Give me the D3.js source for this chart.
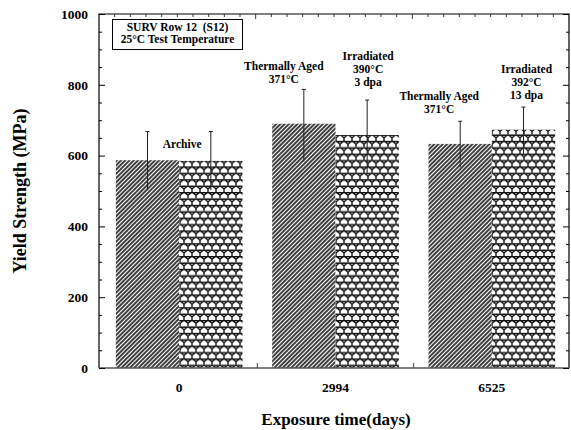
<!DOCTYPE html>
<html>
<head>
<meta charset="utf-8">
<script src="https://cdn.jsdelivr.net/npm/d3@7"></script>
<style>
  body { margin: 0; background: #fff; }
  text { font-family: "Liberation Serif", "Times New Roman", serif; font-weight: bold; white-space: pre; }
</style>
</head>
<body>
<script>
"use strict";

// Width and height
let w = 571;
let h = 430;

// exposure time groups (days)
let groups = ["0", "2994", "6525"];
let series = ["aged", "irradiated"];

// yield strength, MPa
let agedValues = [587, 690, 633];
let agedErrLow = [503, 583, 567];
let agedErrHigh = [668, 787, 697];
let irrValues = [585, 658, 673];
let irrErrLow = [503, 550, 605];
let irrErrHigh = [668, 757, 737];

let yTicks = [0, 200, 400, 600, 800, 1000];

let boxLines = ["SURV Row 12  (S12)", "25\u00b0C Test Temperature"];

// annotation text, by group and series
let notes = [
    {group: "0", series: null, lines: ["Archive"]},
    {group: "2994", series: "aged", lines: ["Thermally Aged", "371\u00b0C"]},
    {group: "2994", series: "irradiated", lines: ["Irradiated", "390\u00b0C", "3 dpa"]},
    {group: "6525", series: "aged", lines: ["Thermally Aged", "371\u00b0C"]},
    {group: "6525", series: "irradiated", lines: ["Irradiated", "392\u00b0C", "13 dpa"]}
];
// where each note sits: horizontal shift and top line baseline (px)
let noteLayout = [
    {dx: 3, top: 148},
    {dx: -20, top: 70},
    {dx: 1, top: 60},
    {dx: -21, top: 100},
    {dx: 3, top: 73}
];
let lineGap = 12.8;

let margin = {top: 14, right: 2, bottom: 62, left: 99};

let svg = d3.select("body")
    .append("svg")
    .attr("width", w)
    .attr("height", h);

let defs = svg.append("defs");

// diagonal hatch
let hatch = defs.append("pattern")
    .attr("id", "hatch")
    .attr("patternUnits", "userSpaceOnUse")
    .attr("width", 3)
    .attr("height", 3)
    .attr("patternTransform", "rotate(45)");
hatch.append("rect").attr("width", 3).attr("height", 3).attr("fill", "#fff");
hatch.append("line")
    .attr("x1", 1).attr("y1", 0).attr("x2", 1).attr("y2", 3)
    .attr("stroke", "#000").attr("stroke-width", 1.5);

// Y-shaped tile pattern
let tw = 8, th = 6.4;
let tile = defs.append("pattern")
    .attr("id", "tiles")
    .attr("patternUnits", "userSpaceOnUse")
    .attr("width", tw)
    .attr("height", th * 2);
tile.append("rect").attr("width", tw).attr("height", th * 2).attr("fill", "#fff");
[0, 1].forEach(r => {
    let off = r ? tw / 2 : 0;
    let y0 = r * th;
    [off - tw, off, off + tw].forEach(xt => {
        tile.append("path")
            .attr("d", `M${xt},${y0 + 0.8}H${xt + tw}` +
                `M${xt + 0.8},${y0 + 0.8}L${xt + tw / 2},${y0 + 3.4}L${xt + tw - 0.8},${y0 + 0.8}` +
                `M${xt + tw / 2},${y0 + 3.4}V${y0 + th}`)
            .attr("fill", "none")
            .attr("stroke", "#111")
            .attr("stroke-width", 1.4);
    });
});

let x = d3.scaleBand()
    .domain(groups)
    .range([margin.left + 2, w - margin.right + 1])
    .paddingInner(0.19)
    .paddingOuter(0.095);

let xs = d3.scaleBand()
    .domain(series)
    .range([0, x.bandwidth()]);

let y = d3.scaleLinear()
    .domain([0, 1000])
    .range([h - margin.bottom, margin.top]);

let bars = [];
groups.forEach((g, i) => {
    bars.push({group: g, series: "aged", value: agedValues[i], lo: agedErrLow[i], hi: agedErrHigh[i]});
    bars.push({group: g, series: "irradiated", value: irrValues[i], lo: irrErrLow[i], hi: irrErrHigh[i]});
});

svg.append("g")
    .selectAll("rect")
    .data(bars)
    .enter().append("rect")
    .attr("x", d => x(d.group) + xs(d.series))
    .attr("y", d => y(d.value))
    .attr("width", xs.bandwidth())
    .attr("height", d => y(0) - y(d.value))
    .attr("fill", d => d.series === "aged" ? "url(#hatch)" : "url(#tiles)");

// error bars, cap on top only
let barMid = d => x(d.group) + xs(d.series) + xs.bandwidth() / 2;
let err = svg.append("g")
    .attr("stroke", "#222")
    .attr("stroke-width", 1);
err.selectAll("line.v")
    .data(bars)
    .enter().append("line")
    .attr("class", "v")
    .attr("x1", barMid)
    .attr("x2", barMid)
    .attr("y1", d => y(d.lo))
    .attr("y2", d => y(d.hi));
err.selectAll("line.cap")
    .data(bars)
    .enter().append("line")
    .attr("class", "cap")
    .attr("x1", d => barMid(d) - 2)
    .attr("x2", d => barMid(d) + 2)
    .attr("y1", d => y(d.hi))
    .attr("y2", d => y(d.hi));

// frame
let x0 = margin.left, x1 = w - margin.right;
let yb = y(0), yt = y(1000);
svg.append("path")
    .attr("d", `M${x0},${yb}V${yt}H${x1}V${yb}`)
    .attr("fill", "none")
    .attr("stroke", "#000")
    .attr("stroke-width", 1.2);
svg.append("line")
    .attr("x1", x0).attr("x2", x1).attr("y1", yb).attr("y2", yb)
    .attr("stroke", "#555").attr("stroke-width", 1.6);

// left axis, ticks inward
let minor = d3.range(0, 1001, 50).filter(v => v % 200 !== 0);
let yAxis = svg.append("g")
    .attr("transform", `translate(${x0},0)`)
    .call(d3.axisLeft(y).tickValues(yTicks).tickSize(-6).tickPadding(11).tickFormat(d3.format("d")));
yAxis.select(".domain").remove();
yAxis.selectAll("text")
    .attr("font-size", 13.5)
    .attr("fill", "#000")
    .attr("font-family", "Liberation Serif");
svg.append("g")
    .attr("transform", `translate(${x0},0)`)
    .call(d3.axisLeft(y).tickValues(minor).tickSize(-3).tickFormat(""))
    .select(".domain").remove();

// right axis
svg.append("g")
    .attr("transform", `translate(${x1},0)`)
    .call(d3.axisRight(y).tickValues(yTicks).tickSize(-6).tickFormat(""))
    .select(".domain").remove();
svg.append("g")
    .attr("transform", `translate(${x1},0)`)
    .call(d3.axisRight(y).tickValues(minor).tickSize(-3).tickFormat(""))
    .select(".domain").remove();

// bottom: labels at group centres, ticks between groups
let step = x.step();
let bounds = groups.slice(1).map(g => x(g) - (step - x.bandwidth()) / 2);
svg.append("g")
    .selectAll("line")
    .data(bounds)
    .enter().append("line")
    .attr("x1", d => d).attr("x2", d => d)
    .attr("y1", yb).attr("y2", yb - 5)
    .attr("stroke", "#444");
svg.append("g")
    .selectAll("text")
    .data(groups)
    .enter().append("text")
    .attr("x", d => x(d) + x.bandwidth() / 2)
    .attr("y", 392)
    .attr("text-anchor", "middle")
    .attr("font-size", 13.5)
    .text(d => d);

// top ticks, ten per group
let topTicks = d3.range(1, 30).map(i => x0 + (i * (x1 - x0)) / 30);
svg.append("g")
    .selectAll("line")
    .data(topTicks)
    .enter().append("line")
    .attr("x1", d => d).attr("x2", d => d)
    .attr("y1", yt).attr("y2", (d, i) => yt + ((i + 1) % 10 === 0 ? 5 : 3))
    .attr("stroke", "#333");

// axis titles
svg.append("text")
    .attr("x", 336)
    .attr("y", 425)
    .attr("text-anchor", "middle")
    .attr("font-size", 17)
    .text("Exposure time(days)");
svg.append("text")
    .attr("transform", `translate(26,${(yb + yt) / 2}) rotate(-90)`)
    .attr("text-anchor", "middle")
    .attr("font-size", 18)
    .text("Yield Strength (MPa)");

// info box
svg.append("rect")
    .attr("x", 112.5).attr("y", 19.5)
    .attr("width", 130).attr("height", 30)
    .attr("fill", "#fff")
    .attr("stroke", "#000");
svg.append("g")
    .selectAll("text")
    .data(boxLines)
    .enter().append("text")
    .attr("x", 177.5)
    .attr("y", (d, i) => 30.5 + i * lineGap)
    .attr("text-anchor", "middle")
    .attr("font-size", 11.5)
    .text(d => d);

// annotations
notes.forEach((n, i) => {
    let lay = noteLayout[i];
    let cx = n.series ? x(n.group) + xs(n.series) + xs.bandwidth() / 2 : x(n.group) + x.bandwidth() / 2;
    svg.append("g")
        .selectAll("text")
        .data(n.lines)
        .enter().append("text")
        .attr("x", cx + lay.dx)
        .attr("y", (d, j) => lay.top + j * lineGap)
        .attr("text-anchor", "middle")
        .attr("font-size", 11.5)
        .text(d => d);
});
</script>
</body>
</html>
